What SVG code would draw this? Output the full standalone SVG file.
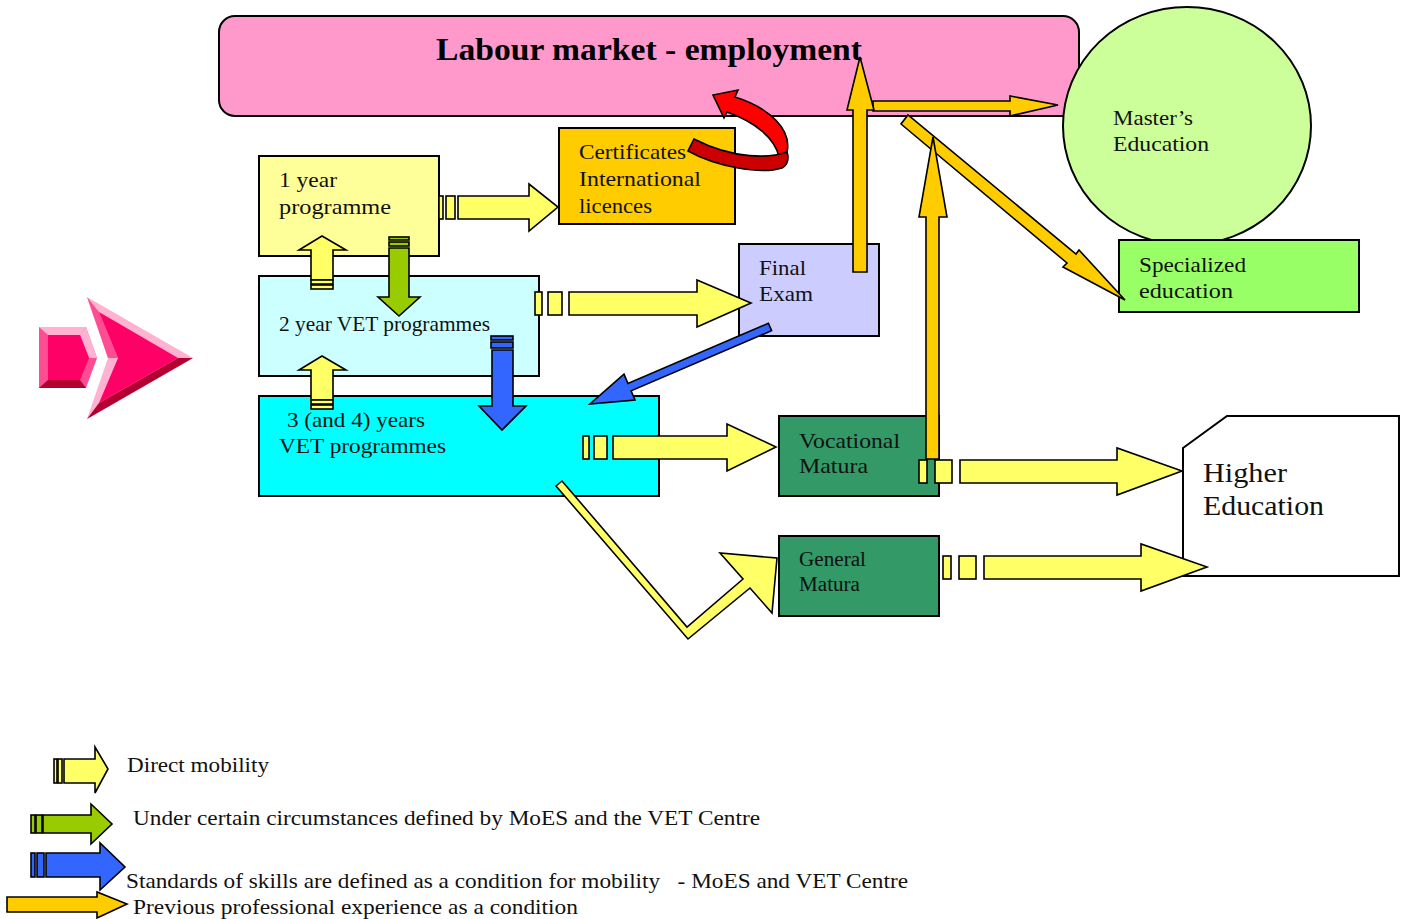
<svg xmlns="http://www.w3.org/2000/svg" width="1406" height="919" viewBox="0 0 1406 919">
<style>
.box{stroke:#000;stroke-width:2}
.t{font-family:"Liberation Serif","DejaVu Serif",serif;font-size:21px;fill:#111}
.ttl{font-family:"Liberation Serif","DejaVu Serif",serif;font-size:31px;font-weight:bold;fill:#000}
.big{font-family:"Liberation Serif","DejaVu Serif",serif;font-size:27px;fill:#111}
.ya{fill:#FFFF66;stroke:#000;stroke-width:1.6;stroke-linejoin:miter}
.oa{fill:#FFCC00;stroke:#000;stroke-width:1.6}
.ga{fill:#99CC00;stroke:#000;stroke-width:1.6}
.ba{fill:#3366FF;stroke:#000;stroke-width:1.6}
.ra{fill:#FF0000;stroke:#000;stroke-width:1.6}
.rd{fill:#CC0000;stroke:#000;stroke-width:1.6}
</style>
<rect width="1406" height="919" fill="#fff"/>

<g id="banner">
<rect class="box" x="219" y="16" width="860" height="100" rx="16" fill="#FF99CC"/>
<text class="ttl" x="436" y="60" textLength="426" lengthAdjust="spacingAndGlyphs">Labour market - employment</text>
</g>

<g id="masters-education">
<ellipse class="box" cx="1187" cy="126" rx="124" ry="119" fill="#CCFF99"/>
<text class="t" x="1113" y="125" textLength="80" lengthAdjust="spacingAndGlyphs">Master’s</text>
<text class="t" x="1113" y="151" textLength="96" lengthAdjust="spacingAndGlyphs">Education</text>
</g>

<g id="specialized-education">
<rect class="box" x="1119" y="240" width="240" height="72" fill="#99FF66"/>
<text class="t" x="1139" y="272" textLength="107" lengthAdjust="spacingAndGlyphs">Specialized</text>
<text class="t" x="1139" y="298" textLength="94" lengthAdjust="spacingAndGlyphs">education</text>
</g>

<g id="one-year-programme">
<rect class="box" x="259" y="156" width="180" height="100" fill="#FFFF99"/>
<text class="t" x="279" y="187" textLength="58" lengthAdjust="spacingAndGlyphs">1 year</text>
<text class="t" x="279" y="214" textLength="112" lengthAdjust="spacingAndGlyphs">programme</text>
</g>

<g id="two-year-vet">
<rect class="box" x="259" y="276" width="280" height="100" fill="#CCFFFF"/>
<text class="t" x="279" y="331" textLength="211" lengthAdjust="spacingAndGlyphs">2 year VET programmes</text>
</g>

<g id="three-four-year-vet">
<rect class="box" x="259" y="396" width="400" height="100" fill="#00FFFF"/>
<text class="t" x="287" y="427" textLength="138" lengthAdjust="spacingAndGlyphs">3 (and 4) years</text>
<text class="t" x="279" y="453" textLength="167" lengthAdjust="spacingAndGlyphs">VET programmes</text>
</g>

<g id="certificates">
<rect class="box" x="559" y="128" width="176" height="96" fill="#FFCC00"/>
<text class="t" x="579" y="159" textLength="107" lengthAdjust="spacingAndGlyphs">Certificates</text>
<text class="t" x="579" y="186" textLength="122" lengthAdjust="spacingAndGlyphs">International</text>
<text class="t" x="579" y="213" textLength="73" lengthAdjust="spacingAndGlyphs">licences</text>
</g>

<g id="final-exam">
<rect class="box" x="739" y="244" width="140" height="92" fill="#CCCCFF"/>
<text class="t" x="759" y="275" textLength="47" lengthAdjust="spacingAndGlyphs">Final</text>
<text class="t" x="759" y="301" textLength="54" lengthAdjust="spacingAndGlyphs">Exam</text>
</g>

<g id="vocational-matura">
<rect class="box" x="779" y="416" width="160" height="80" fill="#339966"/>
<text class="t" x="799" y="448" textLength="101" lengthAdjust="spacingAndGlyphs">Vocational</text>
<text class="t" x="799" y="473" textLength="69" lengthAdjust="spacingAndGlyphs">Matura</text>
</g>

<g id="general-matura">
<rect class="box" x="779" y="536" width="160" height="80" fill="#339966"/>
<text class="t" x="799" y="566" textLength="67" lengthAdjust="spacingAndGlyphs" style="font-size:20px">General</text>
<text class="t" x="799" y="591" textLength="61" lengthAdjust="spacingAndGlyphs" style="font-size:20px">Matura</text>
</g>

<g id="higher-education">
<polygon class="box" points="1183,448 1227,416 1399,416 1399,576 1183,576" fill="#fff"/>
<text class="big" x="1203" y="482" textLength="84" lengthAdjust="spacingAndGlyphs">Higher</text>
<text class="big" x="1203" y="515" textLength="121" lengthAdjust="spacingAndGlyphs">Education</text>
</g>

<g id="entry-arrow">
<polygon points="39,327 86,327 97,358 86,388 39,388" fill="#FF4D94"/>
<polygon points="39,327 86,327 80,335 48,335" fill="#FFB3D1"/>
<polygon points="86,327 97,358 89,358 80,335" fill="#FFB3D1"/>
<polygon points="39,388 86,388 80,380 48,380" fill="#B30030"/>
<polygon points="48,335 80,335 89,358 80,380 48,380" fill="#FF0066"/>
<polygon points="87,297 193,358 87,419 108,358" fill="#FFB3D1"/>
<polygon points="87,419 193,358 178,358 99,403" fill="#B30030"/>
<polygon points="87,297 108,358 118,358 99,312" fill="#FF4D94"/>
<polygon points="99,312 178,358 99,403 118,358" fill="#FF0066"/>
</g>

<g id="connectors">
<!-- 1 year -> certificates -->
<rect class="ya" x="439" y="196" width="4" height="23"/>
<rect class="ya" x="446" y="196" width="9" height="23"/>
<polygon class="ya" points="458,196 529,196 529,184 558,207 529,231 529,219 458,219"/>
<!-- 2 year -> final exam -->
<rect class="ya" x="535" y="292" width="7" height="23"/>
<rect class="ya" x="548" y="292" width="14" height="23"/>
<polygon class="ya" points="569,292 697,292 697,280 751,303 697,327 697,315 569,315"/>
<!-- 3 year -> vocational matura -->
<rect class="ya" x="583" y="436" width="6" height="23"/>
<rect class="ya" x="594" y="436" width="13" height="23"/>
<polygon class="ya" points="613,436 727,436 727,424 776,447 727,471 727,459 613,459"/>
<!-- 3 year -> general matura (bent) -->
<polygon class="ya" points="556,486 688,639 750,588 772,613 777,558 720,553 743,579 687,627 562,481"/>
<!-- vocational up to labour market (orange) -->
<polygon class="oa" points="901,124 1067,263 1063,267 1125,300 1079,250 1076,254 908,115"/>
<polygon class="oa" points="926,459 926,217 919,217 933,137 947,217 939,217 939,459"/>
<!-- vocational -> higher -->
<rect class="ya" x="919" y="460" width="8" height="23"/>
<rect class="ya" x="935" y="460" width="17" height="23"/>
<polygon class="ya" points="960,460 1117,460 1117,448 1182,471 1117,495 1117,483 960,483"/>
<!-- general -> higher -->
<rect class="ya" x="943" y="556" width="8" height="23"/>
<rect class="ya" x="959" y="556" width="17" height="23"/>
<polygon class="ya" points="984,556 1141,556 1141,544 1207,567 1141,591 1141,579 984,579"/>
<!-- 2 year up to 1 year -->
<polygon class="ya" points="311,280 311,250 299,250 322,236 346,250 333,250 333,280"/>
<rect x="311" y="280" width="22" height="4" fill="#FFFF66" stroke="#000" stroke-width="1.6"/>
<rect x="311" y="285" width="22" height="4" fill="#FFFF66" stroke="#000" stroke-width="1.6"/>
<!-- 3 year up to 2 year -->
<polygon class="ya" points="311,400 311,370 299,370 322,356 346,370 333,370 333,400"/>
<rect x="311" y="400" width="22" height="4" fill="#FFFF66" stroke="#000" stroke-width="1.6"/>
<rect x="311" y="405" width="22" height="4" fill="#FFFF66" stroke="#000" stroke-width="1.6"/>
<!-- 1 year down to 2 year (green) -->
<rect class="ga" x="389" y="237" width="20" height="3"/>
<rect class="ga" x="389" y="242" width="20" height="4"/>
<polygon class="ga" points="389,248 409,248 409,297 420,297 399,316 378,297 389,297"/>
<!-- 2 year down to 3 year (blue) -->
<rect class="ba" x="491" y="336" width="22" height="4"/>
<rect class="ba" x="491" y="342" width="22" height="6"/>
<polygon class="ba" points="492,350 513,350 513,406 526,406 502,430 479,406 492,406"/>
<!-- final exam -> 3 year (blue diagonal) -->
<polygon class="ba" points="768.4,323.3 627.9,383.4 624,374.2 590,404 635,400 631.1,390.8 771.6,330.7"/>
<!-- final exam -> labour market, labour market -> masters -->
<polygon class="oa" points="873,101 1010,101 1010,96 1058,105 1010,116 1010,111 873,111"/>
<polygon class="oa" points="853,272 853,110 847,110 860,57 874,110 867,110 867,272"/>
<!-- certificates -> labour market (red curved) -->
<path class="ra" d="M787,152 C792,130 770,108 735,97 L738,90 L713,95 L724,118 L727,112 C755,122 775,138 779,157 Z"/>
<path class="rd" d="M688,151 C715,166 760,175 782,168 C788,165 789,158 787,152 C770,158 735,160 694,139 Z"/>
</g>

<g id="legend">
<rect x="54" y="759" width="3" height="24" fill="#FFFF66" stroke="#000" stroke-width="1.6"/>
<rect x="58" y="759" width="4" height="24" fill="#FFFF66" stroke="#000" stroke-width="1.6"/>
<polygon class="ya" points="64,759 95,759 95,747 108,769 95,793 95,783 64,783"/>
<text class="t" x="127" y="772" textLength="142" lengthAdjust="spacingAndGlyphs">Direct mobility</text>

<rect class="ga" x="31" y="815" width="4" height="18"/>
<rect class="ga" x="36" y="815" width="6" height="18"/>
<polygon class="ga" points="43,815 91,815 91,804 112,824 91,844 91,833 43,833"/>
<text class="t" x="133" y="825" textLength="627" lengthAdjust="spacingAndGlyphs">Under certain circumstances defined by MoES and the VET Centre</text>

<rect class="ba" x="31" y="853" width="4" height="24"/>
<rect class="ba" x="37" y="853" width="7" height="24"/>
<polygon class="ba" points="46,853 100,853 100,843 125,867 100,890 100,877 46,877"/>
<text class="t" x="126" y="888" textLength="782" lengthAdjust="spacingAndGlyphs" xml:space="preserve">Standards of skills are defined as a condition for mobility   - MoES and VET Centre</text>

<polygon class="oa" points="7,897 97,897 97,892 127,904 97,918 97,912 7,912"/>
<text class="t" x="133" y="914" textLength="445" lengthAdjust="spacingAndGlyphs">Previous professional experience as a condition</text>
</g>
</svg>
